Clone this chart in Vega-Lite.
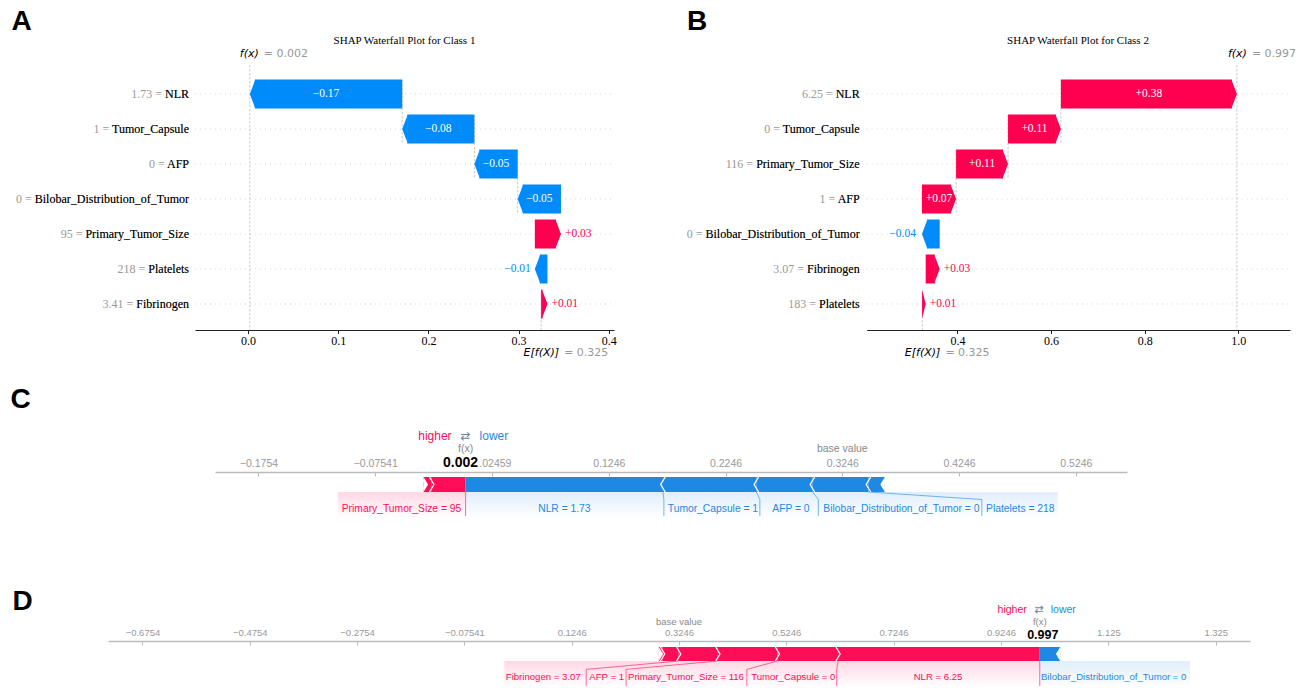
{
"$schema":"https://vega.github.io/schema/vega-lite/v6.json",
"width":1297,"height":688,"autosize":"none","padding":0,"background":"white",
"config":{"view":{"stroke":null}},
"datasets":{
"wfA":[
{"rank":1,"feat":"NLR","lab":"1.73 = NLR","v":-0.169,"s":0.171,"e":0.002},
{"rank":2,"feat":"Tumor_Capsule","lab":"1 = Tumor_Capsule","v":-0.080,"s":0.251,"e":0.171},
{"rank":3,"feat":"AFP","lab":"0 = AFP","v":-0.048,"s":0.299,"e":0.251},
{"rank":4,"feat":"Bilobar_Distribution_of_Tumor","lab":"0 = Bilobar_Distribution_of_Tumor","v":-0.048,"s":0.347,"e":0.299},
{"rank":5,"feat":"Primary_Tumor_Size","lab":"95 = Primary_Tumor_Size","v":0.029,"s":0.318,"e":0.347},
{"rank":6,"feat":"Platelets","lab":"218 = Platelets","v":-0.014,"s":0.332,"e":0.318},
{"rank":7,"feat":"Fibrinogen","lab":"3.41 = Fibrinogen","v":0.007,"s":0.325,"e":0.332}],
"wfB":[
{"rank":1,"feat":"NLR","lab":"6.25 = NLR","v":0.376,"s":0.621,"e":0.997},
{"rank":2,"feat":"Tumor_Capsule","lab":"0 = Tumor_Capsule","v":0.113,"s":0.508,"e":0.621},
{"rank":3,"feat":"Primary_Tumor_Size","lab":"116 = Primary_Tumor_Size","v":0.111,"s":0.397,"e":0.508},
{"rank":4,"feat":"AFP","lab":"1 = AFP","v":0.073,"s":0.324,"e":0.397},
{"rank":5,"feat":"Bilobar_Distribution_of_Tumor","lab":"0 = Bilobar_Distribution_of_Tumor","v":-0.038,"s":0.362,"e":0.324},
{"rank":6,"feat":"Fibrinogen","lab":"3.07 = Fibrinogen","v":0.030,"s":0.332,"e":0.362},
{"rank":7,"feat":"Platelets","lab":"183 = Platelets","v":0.007,"s":0.325,"e":0.332}],
"fpC":[
{"feat":"Fibrinogen","v":0.007,"s":-0.034,"e":-0.027},
{"feat":"Primary_Tumor_Size","v":0.029,"s":-0.027,"e":0.002,"t":"Primary_Tumor_Size = 95","lc":-0.0529},
{"feat":"NLR","v":-0.169,"s":0.002,"e":0.171,"t":"NLR = 1.73","lc":0.0866},
{"feat":"Tumor_Capsule","v":-0.080,"s":0.171,"e":0.251,"t":"Tumor_Capsule = 1","lc":0.2138},
{"feat":"AFP","v":-0.048,"s":0.251,"e":0.299,"t":"AFP = 0","lc":0.2806},
{"feat":"Bilobar_Distribution_of_Tumor","v":-0.048,"s":0.299,"e":0.347,"t":"Bilobar_Distribution_of_Tumor = 0","lc":0.3752},
{"feat":"Platelets","v":-0.014,"s":0.347,"e":0.361,"t":"Platelets = 218","lc":0.4770}],
"lnC":[
{"v":1,"xb":0.002,"xl":0.002},
{"v":-1,"xb":0.171,"xl":0.1718},
{"v":-1,"xb":0.251,"xl":0.2540},
{"v":-1,"xb":0.299,"xl":0.3041},
{"v":-1,"xb":0.347,"xl":0.4441}],
"shC":[{"v":1,"x0":-0.1073,"x1":0.002},{"v":-1,"x0":0.002,"x1":0.5091}],
"fpD":[
{"feat":"Platelets","v":0.007,"s":0.287,"e":0.294},
{"feat":"Fibrinogen","v":0.030,"s":0.294,"e":0.324,"t":"Fibrinogen = 3.07","lc":0.0716},
{"feat":"AFP","v":0.073,"s":0.324,"e":0.397,"t":"AFP = 1","lc":0.1897},
{"feat":"Primary_Tumor_Size","v":0.111,"s":0.397,"e":0.508,"t":"Primary_Tumor_Size = 116","lc":0.3376},
{"feat":"Tumor_Capsule","v":0.113,"s":0.508,"e":0.621,"t":"Tumor_Capsule = 0","lc":0.5376},
{"feat":"NLR","v":0.376,"s":0.621,"e":0.997,"t":"NLR = 6.25","lc":0.8074},
{"feat":"Bilobar_Distribution_of_Tumor","v":-0.038,"s":0.997,"e":1.035,"t":"Bilobar_Distribution_of_Tumor = 0","lc":1.1348}],
"lnD":[
{"v":1,"xb":0.324,"xl":0.1516},
{"v":1,"xb":0.397,"xl":0.2260},
{"v":1,"xb":0.508,"xl":0.4511},
{"v":1,"xb":0.621,"xl":0.6186},
{"v":1,"xb":0.997,"xl":0.997}],
"shD":[{"v":1,"x0":-0.001,"x1":0.997},{"v":-1,"x0":0.997,"x1":1.2772}]
},
"resolve":{"scale":{"x":"independent","y":"independent"}},
"layer":[
{"layer":[
{"data":{"name":"wfA"},"mark":{"type":"rule","color":"#cccccc","strokeWidth":0.8,"strokeDash":[1,4]},
 "encoding":{"x":{"datum":-0.0588,"type":"quantitative","scale":{"domain":[-0.0588,0.4058],"range":[195,614],"nice":false,"zero":false}},
  "x2":{"datum":0.4058},
  "y":{"field":"rank","type":"quantitative","scale":{"domain":[0.171,7.743],"range":[65,330],"nice":false,"zero":false},"axis":null}}},
{"data":{"name":"wfA"},"transform":[{"filter":"datum.rank <= 3"}],"mark":{"type":"rule","color":"#bbbbbb","strokeWidth":0.8,"strokeDash":[2.5,1.5],"yOffset":-14,"y2Offset":49},
 "encoding":{"x":{"field":"s","type":"quantitative"},"y":{"field":"rank","type":"quantitative","axis":null},"y2":{"field":"rank"}}},
{"data":{"values":[{}]},"mark":{"type":"rule","color":"#bbbbbb","strokeWidth":0.8,"strokeDash":[2.5,1.5]},
 "encoding":{"x":{"datum":0.002,"type":"quantitative"},"y":{"datum":0.171,"type":"quantitative","axis":null},"y2":{"datum":7.743}}},
{"data":{"values":[{}]},"mark":{"type":"rule","color":"#bbbbbb","strokeWidth":0.8,"strokeDash":[2.5,1.5]},
 "encoding":{"x":{"datum":0.325,"type":"quantitative"},"y":{"datum":6.661,"type":"quantitative","axis":null},"y2":{"datum":7.743}}},
{"data":{"name":"wfA"},"transform":[{"filter":"datum.v > 0.0065"}],"mark":{"type":"rect","color":"#ff0051","x2Offset":-5,"yOffset":-14.5,"y2Offset":14.5},
 "encoding":{"x":{"field":"s","type":"quantitative",
   "axis":{"orient":"bottom","offset":-358,"values":[0,0.1,0.2,0.3,0.4],"format":".1f","title":null,"grid":false,"domainColor":"#222222","domainWidth":1,"tickColor":"#222222","tickSize":3.5,"labelFont":"Liberation Serif","labelFontSize":12,"labelColor":"#000000","labelPadding":2,"labelFlush":false,"labelOverlap":false}},
  "x2":{"field":"e"},"y":{"field":"rank","type":"quantitative","axis":null},"y2":{"field":"rank"}}},
{"data":{"name":"wfA"},"transform":[{"filter":"datum.v < -0.0065"}],"mark":{"type":"rect","color":"#008bfb","x2Offset":5,"yOffset":-14.5,"y2Offset":14.5},
 "encoding":{"x":{"field":"s","type":"quantitative"},"x2":{"field":"e"},"y":{"field":"rank","type":"quantitative","axis":null},"y2":{"field":"rank"}}},
{"data":{"name":"wfA"},"transform":[{"filter":"datum.v > 0"}],"mark":{"type":"point","shape":"M-0.38,-1L0,0L-0.38,1Z","size":841,"filled":true,"color":"#ff0051","opacity":1,"strokeWidth":0},
 "encoding":{"x":{"field":"e","type":"quantitative"},"y":{"field":"rank","type":"quantitative","axis":null}}},
{"data":{"name":"wfA"},"transform":[{"filter":"datum.v < 0"}],"mark":{"type":"point","shape":"M0.38,-1L0,0L0.38,1Z","size":841,"filled":true,"color":"#008bfb","opacity":1,"strokeWidth":0},
 "encoding":{"x":{"field":"e","type":"quantitative"},"y":{"field":"rank","type":"quantitative","axis":null}}},
{"data":{"name":"wfA"},"transform":[{"filter":"abs(datum.v) >= 0.04"},{"fold":["s","e"],"as":["k","p"]},{"aggregate":[{"op":"mean","field":"p","as":"mid"}],"groupby":["rank","v"]}],
 "mark":{"type":"text","color":"white","font":"Liberation Serif","fontSize":11.5},
 "encoding":{"x":{"field":"mid","type":"quantitative"},"y":{"field":"rank","type":"quantitative","axis":null},"text":{"field":"v","type":"quantitative","format":"+.2f"}}},
{"data":{"name":"wfA"},"transform":[{"filter":"datum.v > 0 && datum.v < 0.04"}],"mark":{"type":"text","align":"left","dx":4,"color":"#ff0051","font":"Liberation Serif","fontSize":11.5},
 "encoding":{"x":{"field":"e","type":"quantitative"},"y":{"field":"rank","type":"quantitative","axis":null},"text":{"field":"v","type":"quantitative","format":"+.2f"}}},
{"data":{"name":"wfA"},"transform":[{"filter":"datum.v < 0 && datum.v > -0.04"}],"mark":{"type":"text","align":"right","dx":-4,"color":"#008bfb","font":"Liberation Serif","fontSize":11.5},
 "encoding":{"x":{"field":"e","type":"quantitative"},"y":{"field":"rank","type":"quantitative","axis":null},"text":{"field":"v","type":"quantitative","format":"+.2f"}}},
{"data":{"name":"wfA"},"mark":{"type":"text","align":"right","dx":-6,"color":"#999999","font":"Liberation Serif","fontSize":12},
 "encoding":{"x":{"datum":-0.0588,"type":"quantitative"},"y":{"field":"rank","type":"quantitative","axis":null},"text":{"field":"lab"}}},
{"data":{"name":"wfA"},"mark":{"type":"text","align":"right","dx":-6,"color":"#000000","font":"Liberation Serif","fontSize":12},
 "encoding":{"x":{"datum":-0.0588,"type":"quantitative"},"y":{"field":"rank","type":"quantitative","axis":null},"text":{"field":"feat"}}},
{"data":{"values":[{}]},"mark":{"type":"text","text":"SHAP Waterfall Plot for Class 1","font":"Liberation Serif","fontSize":11,"color":"#000000"},
 "encoding":{"x":{"datum":0.1735,"type":"quantitative"},"y":{"datum":-0.514,"type":"quantitative","axis":null}}},
{"data":{"values":[{}]},"mark":{"type":"text","text":"f(x)","font":"DejaVu Sans","fontStyle":"italic","fontSize":11,"color":"#000000","align":"right","dx":9},
 "encoding":{"x":{"datum":0.002,"type":"quantitative"},"y":{"datum":-0.143,"type":"quantitative","axis":null}}},
{"data":{"values":[{}]},"mark":{"type":"text","text":"= 0.002","font":"DejaVu Sans","fontSize":11,"color":"#999999","align":"left","dx":14},
 "encoding":{"x":{"datum":0.002,"type":"quantitative"},"y":{"datum":-0.143,"type":"quantitative","axis":null}}},
{"data":{"values":[{}]},"mark":{"type":"text","text":"E[f(X)]","font":"DejaVu Sans","fontStyle":"italic","fontSize":11,"color":"#000000","align":"right","dx":18},
 "encoding":{"x":{"datum":0.325,"type":"quantitative"},"y":{"datum":8.4,"type":"quantitative","axis":null}}},
{"data":{"values":[{}]},"mark":{"type":"text","text":"= 0.325","font":"DejaVu Sans","fontSize":11,"color":"#999999","align":"left","dx":23},
 "encoding":{"x":{"datum":0.325,"type":"quantitative"},"y":{"datum":8.4,"type":"quantitative","axis":null}}},
{"data":{"values":[{}]},"mark":{"type":"text","text":"A","font":"Liberation Sans","fontWeight":"bold","fontSize":28,"color":"#000000"},
 "encoding":{"x":{"datum":-0.2511,"type":"quantitative"},"y":{"datum":-1.066,"type":"quantitative","axis":null}}}
]},
{"layer":[
{"data":{"name":"wfB"},"mark":{"type":"rule","color":"#cccccc","strokeWidth":0.8,"strokeDash":[1,4]},
 "encoding":{"x":{"datum":0.206,"type":"quantitative","scale":{"domain":[0.206,1.1105],"range":[866.7,1290],"nice":false,"zero":false}},
  "x2":{"datum":1.1105},
  "y":{"field":"rank","type":"quantitative","scale":{"domain":[0.171,7.743],"range":[65,330],"nice":false,"zero":false},"axis":null}}},
{"data":{"name":"wfB"},"transform":[{"filter":"datum.rank <= 3"}],"mark":{"type":"rule","color":"#bbbbbb","strokeWidth":0.8,"strokeDash":[2.5,1.5],"yOffset":-14,"y2Offset":49},
 "encoding":{"x":{"field":"s","type":"quantitative"},"y":{"field":"rank","type":"quantitative","axis":null},"y2":{"field":"rank"}}},
{"data":{"values":[{}]},"mark":{"type":"rule","color":"#bbbbbb","strokeWidth":0.8,"strokeDash":[2.5,1.5]},
 "encoding":{"x":{"datum":0.997,"type":"quantitative"},"y":{"datum":0.171,"type":"quantitative","axis":null},"y2":{"datum":7.743}}},
{"data":{"values":[{}]},"mark":{"type":"rule","color":"#bbbbbb","strokeWidth":0.8,"strokeDash":[2.5,1.5]},
 "encoding":{"x":{"datum":0.325,"type":"quantitative"},"y":{"datum":6.661,"type":"quantitative","axis":null},"y2":{"datum":7.743}}},
{"data":{"name":"wfB"},"transform":[{"filter":"datum.v > 0.012"}],"mark":{"type":"rect","color":"#ff0051","x2Offset":-5,"yOffset":-14.5,"y2Offset":14.5},
 "encoding":{"x":{"field":"s","type":"quantitative",
   "axis":{"orient":"bottom","offset":-358,"values":[0.4,0.6,0.8,1.0],"format":".1f","title":null,"grid":false,"domainColor":"#222222","domainWidth":1,"tickColor":"#222222","tickSize":3.5,"labelFont":"Liberation Serif","labelFontSize":12,"labelColor":"#000000","labelPadding":2,"labelFlush":false,"labelOverlap":false}},
  "x2":{"field":"e"},"y":{"field":"rank","type":"quantitative","axis":null},"y2":{"field":"rank"}}},
{"data":{"name":"wfB"},"transform":[{"filter":"datum.v < -0.012"}],"mark":{"type":"rect","color":"#008bfb","x2Offset":5,"yOffset":-14.5,"y2Offset":14.5},
 "encoding":{"x":{"field":"s","type":"quantitative"},"x2":{"field":"e"},"y":{"field":"rank","type":"quantitative","axis":null},"y2":{"field":"rank"}}},
{"data":{"name":"wfB"},"transform":[{"filter":"datum.v > 0.012"}],"mark":{"type":"point","shape":"M-0.38,-1L0,0L-0.38,1Z","size":841,"filled":true,"color":"#ff0051","opacity":1,"strokeWidth":0},
 "encoding":{"x":{"field":"e","type":"quantitative"},"y":{"field":"rank","type":"quantitative","axis":null}}},
{"data":{"name":"wfB"},"transform":[{"filter":"datum.v > 0 && datum.v <= 0.012"}],"mark":{"type":"point","shape":"M-0.25,-1L0,0L-0.25,1Z","size":841,"filled":true,"color":"#ff0051","opacity":1,"strokeWidth":0},
 "encoding":{"x":{"field":"e","type":"quantitative"},"y":{"field":"rank","type":"quantitative","axis":null}}},
{"data":{"name":"wfB"},"transform":[{"filter":"datum.v < 0"}],"mark":{"type":"point","shape":"M0.38,-1L0,0L0.38,1Z","size":841,"filled":true,"color":"#008bfb","opacity":1,"strokeWidth":0},
 "encoding":{"x":{"field":"e","type":"quantitative"},"y":{"field":"rank","type":"quantitative","axis":null}}},
{"data":{"name":"wfB"},"transform":[{"filter":"abs(datum.v) >= 0.05"},{"fold":["s","e"],"as":["k","p"]},{"aggregate":[{"op":"mean","field":"p","as":"mid"}],"groupby":["rank","v"]}],
 "mark":{"type":"text","color":"white","font":"Liberation Serif","fontSize":11.5},
 "encoding":{"x":{"field":"mid","type":"quantitative"},"y":{"field":"rank","type":"quantitative","axis":null},"text":{"field":"v","type":"quantitative","format":"+.2f"}}},
{"data":{"name":"wfB"},"transform":[{"filter":"datum.v > 0 && datum.v < 0.05"}],"mark":{"type":"text","align":"left","dx":4,"color":"#ff0051","font":"Liberation Serif","fontSize":11.5},
 "encoding":{"x":{"field":"e","type":"quantitative"},"y":{"field":"rank","type":"quantitative","axis":null},"text":{"field":"v","type":"quantitative","format":"+.2f"}}},
{"data":{"name":"wfB"},"transform":[{"filter":"datum.v < 0 && datum.v > -0.05"}],"mark":{"type":"text","align":"right","dx":-6,"color":"#008bfb","font":"Liberation Serif","fontSize":11.5},
 "encoding":{"x":{"field":"e","type":"quantitative"},"y":{"field":"rank","type":"quantitative","axis":null},"text":{"field":"v","type":"quantitative","format":"+.2f"}}},
{"data":{"name":"wfB"},"mark":{"type":"text","align":"right","dx":-7,"color":"#999999","font":"Liberation Serif","fontSize":12},
 "encoding":{"x":{"datum":0.206,"type":"quantitative"},"y":{"field":"rank","type":"quantitative","axis":null},"text":{"field":"lab"}}},
{"data":{"name":"wfB"},"mark":{"type":"text","align":"right","dx":-7,"color":"#000000","font":"Liberation Serif","fontSize":12},
 "encoding":{"x":{"datum":0.206,"type":"quantitative"},"y":{"field":"rank","type":"quantitative","axis":null},"text":{"field":"feat"}}},
{"data":{"values":[{}]},"mark":{"type":"text","text":"SHAP Waterfall Plot for Class 2","font":"Liberation Serif","fontSize":11,"color":"#000000"},
 "encoding":{"x":{"datum":0.6575,"type":"quantitative"},"y":{"datum":-0.514,"type":"quantitative","axis":null}}},
{"data":{"values":[{}]},"mark":{"type":"text","text":"f(x)","font":"DejaVu Sans","fontStyle":"italic","fontSize":11,"color":"#000000","align":"right","dx":10},
 "encoding":{"x":{"datum":0.997,"type":"quantitative"},"y":{"datum":-0.143,"type":"quantitative","axis":null}}},
{"data":{"values":[{}]},"mark":{"type":"text","text":"= 0.997","font":"DejaVu Sans","fontSize":11,"color":"#999999","align":"left","dx":15},
 "encoding":{"x":{"datum":0.997,"type":"quantitative"},"y":{"datum":-0.143,"type":"quantitative","axis":null}}},
{"data":{"values":[{}]},"mark":{"type":"text","text":"E[f(X)]","font":"DejaVu Sans","fontStyle":"italic","fontSize":11,"color":"#000000","align":"right","dx":18},
 "encoding":{"x":{"datum":0.325,"type":"quantitative"},"y":{"datum":8.4,"type":"quantitative","axis":null}}},
{"data":{"values":[{}]},"mark":{"type":"text","text":"= 0.325","font":"DejaVu Sans","fontSize":11,"color":"#999999","align":"left","dx":23},
 "encoding":{"x":{"datum":0.325,"type":"quantitative"},"y":{"datum":8.4,"type":"quantitative","axis":null}}},
{"data":{"values":[{}]},"mark":{"type":"text","text":"B","font":"Liberation Sans","fontWeight":"bold","fontSize":28,"color":"#000000"},
 "encoding":{"x":{"datum":-0.1566,"type":"quantitative"},"y":{"datum":-1.066,"type":"quantitative","axis":null}}}
]},
{"layer":[
{"data":{"name":"shC"},"transform":[{"filter":"datum.v > 0"}],
 "mark":{"type":"rect","color":{"gradient":"linear","x1":0,"y1":0,"x2":0,"y2":1,"stops":[{"offset":0,"color":"rgba(255,13,87,0.16)"},{"offset":1,"color":"rgba(255,13,87,0)"}]}},
 "encoding":{"x":{"field":"x0","type":"quantitative","scale":{"domain":[-0.2126,0.5684],"range":[215,1127],"nice":false,"zero":false}},"x2":{"field":"x1"},
  "y":{"datum":0,"type":"quantitative","scale":{"domain":[0,1],"range":[492,477],"nice":false,"zero":false},"axis":null},"y2":{"datum":-1.75}}},
{"data":{"name":"shC"},"transform":[{"filter":"datum.v < 0"}],
 "mark":{"type":"rect","color":{"gradient":"linear","x1":0,"y1":0,"x2":0,"y2":1,"stops":[{"offset":0,"color":"rgba(30,136,229,0.14)"},{"offset":1,"color":"rgba(30,136,229,0)"}]}},
 "encoding":{"x":{"field":"x0","type":"quantitative"},"x2":{"field":"x1"},"y":{"datum":0,"type":"quantitative","axis":null},"y2":{"datum":-1.75}}},
{"data":{"name":"lnC"},"mark":{"type":"rule","strokeWidth":1,"opacity":0.6},
 "encoding":{"x":{"field":"xb","type":"quantitative"},"x2":{"field":"xl"},"y":{"datum":0,"type":"quantitative","axis":null},"y2":{"datum":-0.5},
  "color":{"condition":{"test":"datum.v > 0","value":"#ff0d57"},"value":"#1e88e5"}}},
{"data":{"name":"lnC"},"mark":{"type":"rule","strokeWidth":1,"opacity":0.6},
 "encoding":{"x":{"field":"xl","type":"quantitative"},"y":{"datum":-0.5,"type":"quantitative","axis":null},"y2":{"datum":-1.6},
  "color":{"condition":{"test":"datum.v > 0","value":"#ff0d57"},"value":"#1e88e5"}}},
{"data":{"name":"fpC"},"mark":{"type":"rect"},
 "encoding":{"x":{"field":"s","type":"quantitative",
   "axis":{"orient":"top","offset":-472,"values":[-0.1754,-0.07541,0.02459,0.1246,0.2246,0.3246,0.4246,0.5246],"format":".4r","title":null,"grid":false,"domainColor":"#bbbbbb","domainWidth":1.5,"tickColor":"#bbbbbb","tickSize":-4,"labelPadding":8,"labelFont":"Liberation Sans","labelFontSize":10.5,"labelColor":"#999999","labelFlush":false,"labelOverlap":false}},
  "x2":{"field":"e"},"y":{"datum":0,"type":"quantitative","axis":null},"y2":{"datum":1},
  "color":{"condition":{"test":"datum.v > 0","value":"#ff0d57"},"value":"#1e88e5"}}},
{"data":{"name":"fpC"},"transform":[{"filter":"datum.v > 0"}],"mark":{"type":"point","shape":"M-0.3,-1L0.3,0L-0.3,1","size":225,"filled":false,"color":"white","strokeWidth":1.3,"opacity":1},
 "encoding":{"x":{"field":"s","type":"quantitative"},"y":{"datum":0.5,"type":"quantitative","axis":null}}},
{"data":{"name":"fpC"},"transform":[{"filter":"datum.v < 0"}],"mark":{"type":"point","shape":"M0.3,-1L-0.3,0L0.3,1","size":225,"filled":false,"color":"white","strokeWidth":1.3,"opacity":1},
 "encoding":{"x":{"field":"e","type":"quantitative"},"y":{"datum":0.5,"type":"quantitative","axis":null}}},
{"data":{"name":"fpC"},"transform":[{"filter":"datum.v > 0"},{"aggregate":[{"op":"min","field":"s","as":"n"}]}],"mark":{"type":"point","shape":"M0,-1L0.6,0L0,1Z","size":225,"filled":true,"color":"white","strokeWidth":0,"opacity":1},
 "encoding":{"x":{"field":"n","type":"quantitative"},"y":{"datum":0.5,"type":"quantitative","axis":null}}},
{"data":{"name":"fpC"},"transform":[{"filter":"datum.v < 0"},{"aggregate":[{"op":"max","field":"e","as":"n"}]}],"mark":{"type":"point","shape":"M0,-1L-0.6,0L0,1Z","size":225,"filled":true,"color":"white","strokeWidth":0,"opacity":1},
 "encoding":{"x":{"field":"n","type":"quantitative"},"y":{"datum":0.5,"type":"quantitative","axis":null}}},
{"data":{"name":"fpC"},"transform":[{"filter":"isValid(datum.t)"}],"mark":{"type":"text","font":"Liberation Sans","fontSize":10.3},
 "encoding":{"x":{"field":"lc","type":"quantitative"},"y":{"datum":-1.133,"type":"quantitative","axis":null},"text":{"field":"t"},
  "color":{"condition":{"test":"datum.v > 0","value":"#ff0d57"},"value":"#1e88e5"}}},
{"data":{"values":[{}]},"mark":{"type":"text","text":"higher","font":"Liberation Sans","fontSize":12,"color":"#ff0d57","align":"right","dx":-14},
 "encoding":{"x":{"datum":0.002,"type":"quantitative"},"y":{"datum":3.733,"type":"quantitative","axis":null}}},
{"data":{"values":[{}]},"mark":{"type":"text","text":"⇄","font":"DejaVu Sans","fontSize":12,"color":"#6a7fa6"},
 "encoding":{"x":{"datum":0.002,"type":"quantitative"},"y":{"datum":3.733,"type":"quantitative","axis":null}}},
{"data":{"values":[{}]},"mark":{"type":"text","text":"lower","font":"Liberation Sans","fontSize":12,"color":"#1e88e5","align":"left","dx":14},
 "encoding":{"x":{"datum":0.002,"type":"quantitative"},"y":{"datum":3.733,"type":"quantitative","axis":null}}},
{"data":{"values":[{}]},"mark":{"type":"text","text":"f(x)","font":"Liberation Sans","fontSize":10.5,"color":"#888888"},
 "encoding":{"x":{"datum":0.002,"type":"quantitative"},"y":{"datum":2.867,"type":"quantitative","axis":null}}},
{"data":{"values":[{}]},"mark":{"type":"text","text":"base value","font":"Liberation Sans","fontSize":10.5,"color":"#888888"},
 "encoding":{"x":{"datum":0.3246,"type":"quantitative"},"y":{"datum":2.867,"type":"quantitative","axis":null}}},
{"data":{"values":[{}]},"mark":{"type":"text","text":"0.002","font":"Liberation Sans","fontWeight":"bold","fontSize":14,"color":"white","stroke":"white","strokeWidth":4,"dx":-5},
 "encoding":{"x":{"datum":0.002,"type":"quantitative"},"y":{"datum":1.933,"type":"quantitative","axis":null}}},
{"data":{"values":[{}]},"mark":{"type":"text","text":"0.002","font":"Liberation Sans","fontWeight":"bold","fontSize":14,"color":"#000000","dx":-5},
 "encoding":{"x":{"datum":0.002,"type":"quantitative"},"y":{"datum":1.933,"type":"quantitative","axis":null}}},
{"data":{"values":[{}]},"mark":{"type":"text","text":"C","font":"Liberation Sans","fontWeight":"bold","fontSize":28,"color":"#000000"},
 "encoding":{"x":{"datum":-0.3791,"type":"quantitative"},"y":{"datum":6.133,"type":"quantitative","axis":null}}}
]},
{"layer":[
{"data":{"name":"shD"},"transform":[{"filter":"datum.v > 0"}],
 "mark":{"type":"rect","color":{"gradient":"linear","x1":0,"y1":0,"x2":0,"y2":1,"stops":[{"offset":0,"color":"rgba(255,13,87,0.16)"},{"offset":1,"color":"rgba(255,13,87,0)"}]}},
 "encoding":{"x":{"field":"x0","type":"quantitative","scale":{"domain":[-0.7396,1.3888],"range":[108,1250],"nice":false,"zero":false}},"x2":{"field":"x1"},
  "y":{"datum":0,"type":"quantitative","scale":{"domain":[0,1],"range":[661,647],"nice":false,"zero":false},"axis":null},"y2":{"datum":-1.9}}},
{"data":{"name":"shD"},"transform":[{"filter":"datum.v < 0"}],
 "mark":{"type":"rect","color":{"gradient":"linear","x1":0,"y1":0,"x2":0,"y2":1,"stops":[{"offset":0,"color":"rgba(30,136,229,0.14)"},{"offset":1,"color":"rgba(30,136,229,0)"}]}},
 "encoding":{"x":{"field":"x0","type":"quantitative"},"x2":{"field":"x1"},"y":{"datum":0,"type":"quantitative","axis":null},"y2":{"datum":-1.9}}},
{"data":{"name":"lnD"},"mark":{"type":"rule","strokeWidth":1,"opacity":0.6},
 "encoding":{"x":{"field":"xb","type":"quantitative"},"x2":{"field":"xl"},"y":{"datum":0,"type":"quantitative","axis":null},"y2":{"datum":-0.6},
  "color":{"condition":{"test":"datum.v > 0","value":"#ff0d57"},"value":"#1e88e5"}}},
{"data":{"name":"lnD"},"mark":{"type":"rule","strokeWidth":1,"opacity":0.6},
 "encoding":{"x":{"field":"xl","type":"quantitative"},"y":{"datum":-0.6,"type":"quantitative","axis":null},"y2":{"datum":-1.8},
  "color":{"condition":{"test":"datum.v > 0","value":"#ff0d57"},"value":"#1e88e5"}}},
{"data":{"name":"fpD"},"mark":{"type":"rect"},
 "encoding":{"x":{"field":"s","type":"quantitative",
   "axis":{"orient":"top","offset":-641,"values":[-0.6754,-0.4754,-0.2754,-0.07541,0.1246,0.3246,0.5246,0.7246,0.9246,1.125,1.325],"format":".4r","title":null,"grid":false,"domainColor":"#bbbbbb","domainWidth":1.5,"tickColor":"#bbbbbb","tickSize":-4,"labelPadding":8,"labelFont":"Liberation Sans","labelFontSize":9.5,"labelColor":"#999999","labelFlush":false,"labelOverlap":false}},
  "x2":{"field":"e"},"y":{"datum":0,"type":"quantitative","axis":null},"y2":{"datum":1},
  "color":{"condition":{"test":"datum.v > 0","value":"#ff0d57"},"value":"#1e88e5"}}},
{"data":{"name":"fpD"},"transform":[{"filter":"datum.v > 0"}],"mark":{"type":"point","shape":"M-0.3,-1L0.3,0L-0.3,1","size":196,"filled":false,"color":"white","strokeWidth":1.3,"opacity":1},
 "encoding":{"x":{"field":"s","type":"quantitative"},"y":{"datum":0.5,"type":"quantitative","axis":null}}},
{"data":{"name":"fpD"},"transform":[{"filter":"datum.v < 0"}],"mark":{"type":"point","shape":"M0.3,-1L-0.3,0L0.3,1","size":196,"filled":false,"color":"white","strokeWidth":1.3,"opacity":1},
 "encoding":{"x":{"field":"e","type":"quantitative"},"y":{"datum":0.5,"type":"quantitative","axis":null}}},
{"data":{"name":"fpD"},"transform":[{"filter":"datum.v > 0"},{"aggregate":[{"op":"min","field":"s","as":"n"}]}],"mark":{"type":"point","shape":"M0,-1L0.6,0L0,1Z","size":196,"filled":true,"color":"white","strokeWidth":0,"opacity":1},
 "encoding":{"x":{"field":"n","type":"quantitative"},"y":{"datum":0.5,"type":"quantitative","axis":null}}},
{"data":{"name":"fpD"},"transform":[{"filter":"datum.v < 0"},{"aggregate":[{"op":"max","field":"e","as":"n"}]}],"mark":{"type":"point","shape":"M0,-1L-0.6,0L0,1Z","size":196,"filled":true,"color":"white","strokeWidth":0,"opacity":1},
 "encoding":{"x":{"field":"n","type":"quantitative"},"y":{"datum":0.5,"type":"quantitative","axis":null}}},
{"data":{"name":"fpD"},"transform":[{"filter":"isValid(datum.t)"}],"mark":{"type":"text","font":"Liberation Sans","fontSize":9.6},
 "encoding":{"x":{"field":"lc","type":"quantitative"},"y":{"datum":-1.143,"type":"quantitative","axis":null},"text":{"field":"t"},
  "color":{"condition":{"test":"datum.v > 0","value":"#ff0d57"},"value":"#1e88e5"}}},
{"data":{"values":[{}]},"mark":{"type":"text","text":"higher","font":"Liberation Sans","fontSize":10.5,"color":"#ff0d57","align":"right","dx":-13},
 "encoding":{"x":{"datum":0.997,"type":"quantitative"},"y":{"datum":3.64,"type":"quantitative","axis":null}}},
{"data":{"values":[{}]},"mark":{"type":"text","text":"⇄","font":"DejaVu Sans","fontSize":11,"color":"#6a7fa6","dx":-1},
 "encoding":{"x":{"datum":0.997,"type":"quantitative"},"y":{"datum":3.64,"type":"quantitative","axis":null}}},
{"data":{"values":[{}]},"mark":{"type":"text","text":"lower","font":"Liberation Sans","fontSize":10.5,"color":"#1e88e5","align":"left","dx":11},
 "encoding":{"x":{"datum":0.997,"type":"quantitative"},"y":{"datum":3.64,"type":"quantitative","axis":null}}},
{"data":{"values":[{}]},"mark":{"type":"text","text":"f(x)","font":"Liberation Sans","fontSize":9.5,"color":"#888888"},
 "encoding":{"x":{"datum":0.997,"type":"quantitative"},"y":{"datum":2.786,"type":"quantitative","axis":null}}},
{"data":{"values":[{}]},"mark":{"type":"text","text":"base value","font":"Liberation Sans","fontSize":9.5,"color":"#888888"},
 "encoding":{"x":{"datum":0.3246,"type":"quantitative"},"y":{"datum":2.786,"type":"quantitative","axis":null}}},
{"data":{"values":[{}]},"mark":{"type":"text","text":"0.997","font":"Liberation Sans","fontWeight":"bold","fontSize":12.5,"color":"#000000","dx":3},
 "encoding":{"x":{"datum":0.997,"type":"quantitative"},"y":{"datum":1.857,"type":"quantitative","axis":null}}},
{"data":{"values":[{}]},"mark":{"type":"text","text":"D","font":"Liberation Sans","fontWeight":"bold","fontSize":28,"color":"#000000"},
 "encoding":{"x":{"datum":-0.8987,"type":"quantitative"},"y":{"datum":4.25,"type":"quantitative","axis":null}}}
]}
]
}
